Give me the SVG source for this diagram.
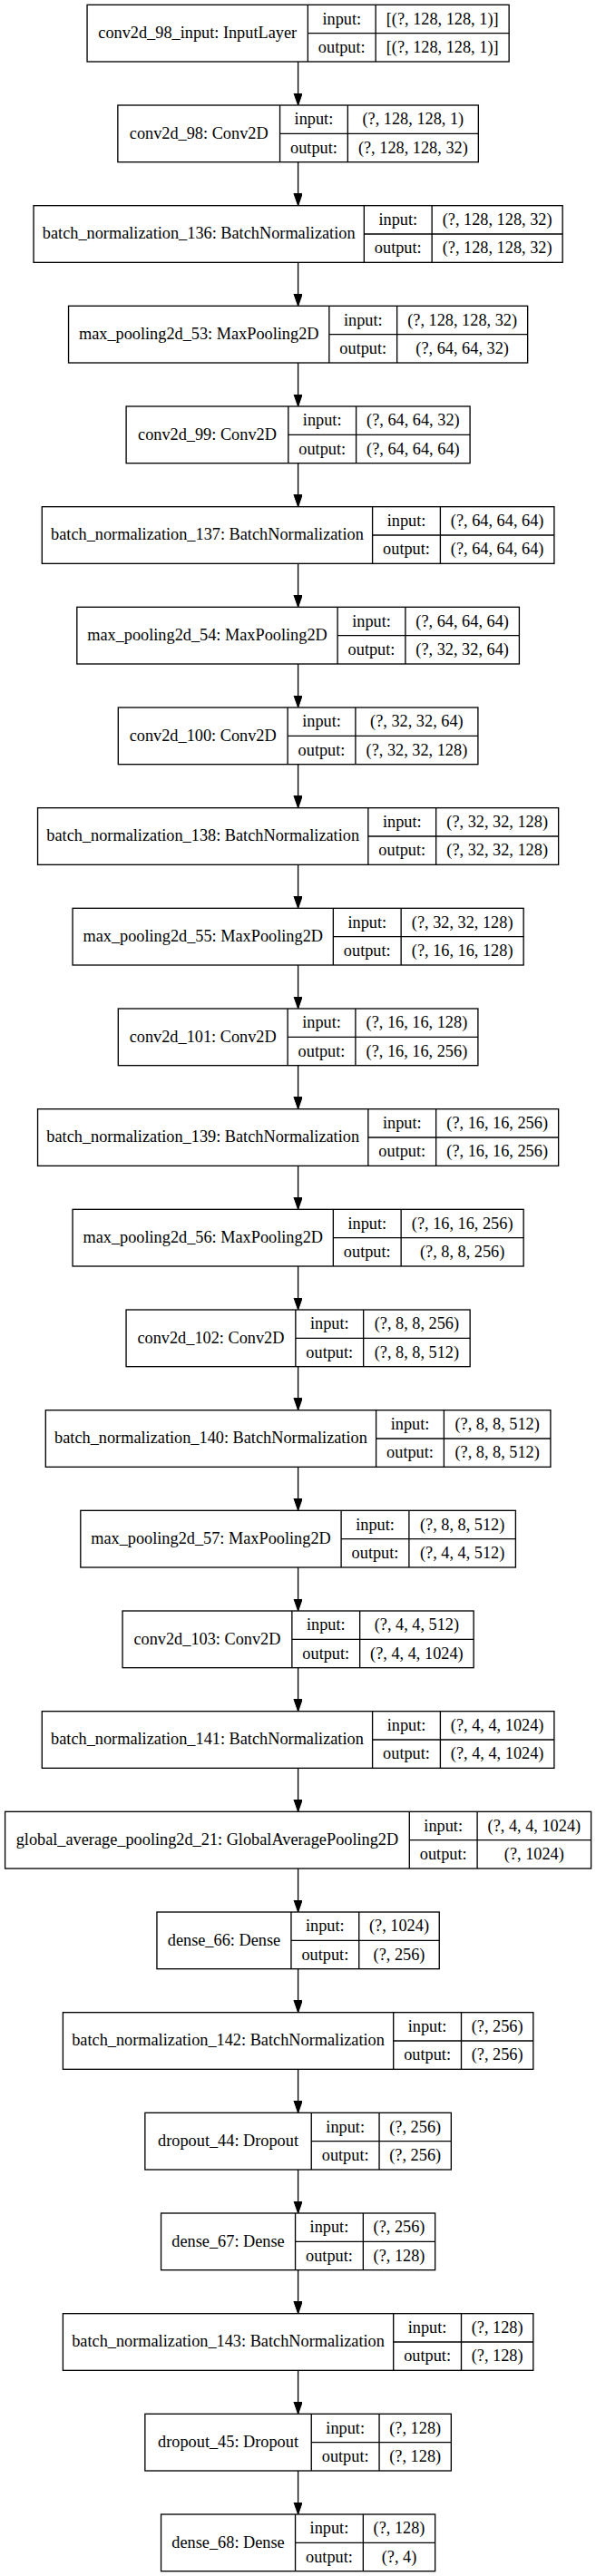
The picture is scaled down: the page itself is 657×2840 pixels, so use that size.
<svg xmlns="http://www.w3.org/2000/svg" width="657" height="2840" viewBox="0 0 657 2840">
<style>
.b{fill:#fff;stroke:#000;stroke-width:1.33}
.d{fill:none;stroke:#000;stroke-width:1.33}
text{font-family:"Liberation Serif","Times New Roman",serif;font-size:18.3px;fill:#000;text-anchor:middle}
.e{stroke:#000;stroke-width:1.33;fill:none;marker-end:url(#ah)}
</style>
<defs>
<marker id="ah" markerUnits="userSpaceOnUse" markerWidth="14" markerHeight="10" refX="13.33" refY="4.67" orient="auto" viewBox="0 0 14 10">
<path d="M0,0 L13.33,4.67 L0,9.33 Z" fill="#000" stroke="#000" stroke-width="1"/>
</marker>
</defs>
<rect width="657" height="2840" fill="#fff"/>
<g id="edges">
<line class="e" x1="328.6" y1="68" x2="328.6" y2="116"/>
<line class="e" x1="328.6" y1="178.67" x2="328.6" y2="226.67"/>
<line class="e" x1="328.6" y1="289.33" x2="328.6" y2="337.33"/>
<line class="e" x1="328.6" y1="400" x2="328.6" y2="448"/>
<line class="e" x1="328.6" y1="510.67" x2="328.6" y2="558.67"/>
<line class="e" x1="328.6" y1="621.33" x2="328.6" y2="669.33"/>
<line class="e" x1="328.6" y1="732" x2="328.6" y2="780"/>
<line class="e" x1="328.6" y1="842.67" x2="328.6" y2="890.67"/>
<line class="e" x1="328.6" y1="953.33" x2="328.6" y2="1001.33"/>
<line class="e" x1="328.6" y1="1064" x2="328.6" y2="1112"/>
<line class="e" x1="328.6" y1="1174.67" x2="328.6" y2="1222.67"/>
<line class="e" x1="328.6" y1="1285.33" x2="328.6" y2="1333.33"/>
<line class="e" x1="328.6" y1="1396" x2="328.6" y2="1444"/>
<line class="e" x1="328.6" y1="1506.67" x2="328.6" y2="1554.67"/>
<line class="e" x1="328.6" y1="1617.33" x2="328.6" y2="1665.33"/>
<line class="e" x1="328.6" y1="1728" x2="328.6" y2="1776"/>
<line class="e" x1="328.6" y1="1838.67" x2="328.6" y2="1886.67"/>
<line class="e" x1="328.6" y1="1949.33" x2="328.6" y2="1997.33"/>
<line class="e" x1="328.6" y1="2060" x2="328.6" y2="2108"/>
<line class="e" x1="328.6" y1="2170.67" x2="328.6" y2="2218.67"/>
<line class="e" x1="328.6" y1="2281.33" x2="328.6" y2="2329.33"/>
<line class="e" x1="328.6" y1="2392" x2="328.6" y2="2440"/>
<line class="e" x1="328.6" y1="2502.67" x2="328.6" y2="2550.67"/>
<line class="e" x1="328.6" y1="2613.33" x2="328.6" y2="2661.33"/>
<line class="e" x1="328.6" y1="2724" x2="328.6" y2="2772"/>
</g>

<g id="n0" transform="translate(0,5.33)">
<rect class="b" x="96.05" y="0" width="465.1" height="62.67"/>
<path class="d" d="M339.35,0V62.67M414.15,0V62.67M339.35,31.33H561.15"/>
<text x="217.7" y="36.8">conv2d_98_input: InputLayer</text>
<text x="376.75" y="21.2">input:</text><text x="376.75" y="52.5">output:</text>
<text x="487.65" y="21.2">[(?, 128, 128, 1)]</text><text x="487.65" y="52.5">[(?, 128, 128, 1)]</text>
</g>

<g id="n1" transform="translate(0,116)">
<rect class="b" x="129.85" y="0" width="397.5" height="62.67"/>
<path class="d" d="M308.55,0V62.67M383.35,0V62.67M308.55,31.33H527.35"/>
<text x="219.2" y="36.8">conv2d_98: Conv2D</text>
<text x="345.95" y="21.2">input:</text><text x="345.95" y="52.5">output:</text>
<text x="455.35" y="21.2">(?, 128, 128, 1)</text><text x="455.35" y="52.5">(?, 128, 128, 32)</text>
</g>

<g id="n2" transform="translate(0,226.67)">
<rect class="b" x="37.05" y="0" width="583.1" height="62.67"/>
<path class="d" d="M401.35,0V62.67M476.15,0V62.67M401.35,31.33H620.15"/>
<text x="219.2" y="36.8">batch_normalization_136: BatchNormalization</text>
<text x="438.75" y="21.2">input:</text><text x="438.75" y="52.5">output:</text>
<text x="548.15" y="21.2">(?, 128, 128, 32)</text><text x="548.15" y="52.5">(?, 128, 128, 32)</text>
</g>

<g id="n3" transform="translate(0,337.33)">
<rect class="b" x="75.55" y="0" width="506.1" height="62.67"/>
<path class="d" d="M362.85,0V62.67M437.65,0V62.67M362.85,31.33H581.65"/>
<text x="219.2" y="36.8">max_pooling2d_53: MaxPooling2D</text>
<text x="400.25" y="21.2">input:</text><text x="400.25" y="52.5">output:</text>
<text x="509.65" y="21.2">(?, 128, 128, 32)</text><text x="509.65" y="52.5">(?, 64, 64, 32)</text>
</g>

<g id="n4" transform="translate(0,448)">
<rect class="b" x="139.1" y="0" width="379" height="62.67"/>
<path class="d" d="M317.8,0V62.67M392.6,0V62.67M317.8,31.33H518.1"/>
<text x="228.45" y="36.8">conv2d_99: Conv2D</text>
<text x="355.2" y="21.2">input:</text><text x="355.2" y="52.5">output:</text>
<text x="455.35" y="21.2">(?, 64, 64, 32)</text><text x="455.35" y="52.5">(?, 64, 64, 64)</text>
</g>

<g id="n5" transform="translate(0,558.67)">
<rect class="b" x="46.3" y="0" width="564.6" height="62.67"/>
<path class="d" d="M410.6,0V62.67M485.4,0V62.67M410.6,31.33H610.9"/>
<text x="228.45" y="36.8">batch_normalization_137: BatchNormalization</text>
<text x="448" y="21.2">input:</text><text x="448" y="52.5">output:</text>
<text x="548.15" y="21.2">(?, 64, 64, 64)</text><text x="548.15" y="52.5">(?, 64, 64, 64)</text>
</g>

<g id="n6" transform="translate(0,669.33)">
<rect class="b" x="84.8" y="0" width="487.6" height="62.67"/>
<path class="d" d="M372.1,0V62.67M446.9,0V62.67M372.1,31.33H572.4"/>
<text x="228.45" y="36.8">max_pooling2d_54: MaxPooling2D</text>
<text x="409.5" y="21.2">input:</text><text x="409.5" y="52.5">output:</text>
<text x="509.65" y="21.2">(?, 64, 64, 64)</text><text x="509.65" y="52.5">(?, 32, 32, 64)</text>
</g>

<g id="n7" transform="translate(0,780)">
<rect class="b" x="130.3" y="0" width="396.6" height="62.67"/>
<path class="d" d="M317.1,0V62.67M391.9,0V62.67M317.1,31.33H526.9"/>
<text x="223.7" y="36.8">conv2d_100: Conv2D</text>
<text x="354.5" y="21.2">input:</text><text x="354.5" y="52.5">output:</text>
<text x="459.4" y="21.2">(?, 32, 32, 64)</text><text x="459.4" y="52.5">(?, 32, 32, 128)</text>
</g>

<g id="n8" transform="translate(0,890.67)">
<rect class="b" x="41.55" y="0" width="574.1" height="62.67"/>
<path class="d" d="M405.85,0V62.67M480.65,0V62.67M405.85,31.33H615.65"/>
<text x="223.7" y="36.8">batch_normalization_138: BatchNormalization</text>
<text x="443.25" y="21.2">input:</text><text x="443.25" y="52.5">output:</text>
<text x="548.15" y="21.2">(?, 32, 32, 128)</text><text x="548.15" y="52.5">(?, 32, 32, 128)</text>
</g>

<g id="n9" transform="translate(0,1001.33)">
<rect class="b" x="80.05" y="0" width="497.1" height="62.67"/>
<path class="d" d="M367.35,0V62.67M442.15,0V62.67M367.35,31.33H577.15"/>
<text x="223.7" y="36.8">max_pooling2d_55: MaxPooling2D</text>
<text x="404.75" y="21.2">input:</text><text x="404.75" y="52.5">output:</text>
<text x="509.65" y="21.2">(?, 32, 32, 128)</text><text x="509.65" y="52.5">(?, 16, 16, 128)</text>
</g>

<g id="n10" transform="translate(0,1112)">
<rect class="b" x="130.3" y="0" width="396.6" height="62.67"/>
<path class="d" d="M317.1,0V62.67M391.9,0V62.67M317.1,31.33H526.9"/>
<text x="223.7" y="36.8">conv2d_101: Conv2D</text>
<text x="354.5" y="21.2">input:</text><text x="354.5" y="52.5">output:</text>
<text x="459.4" y="21.2">(?, 16, 16, 128)</text><text x="459.4" y="52.5">(?, 16, 16, 256)</text>
</g>

<g id="n11" transform="translate(0,1222.67)">
<rect class="b" x="41.55" y="0" width="574.1" height="62.67"/>
<path class="d" d="M405.85,0V62.67M480.65,0V62.67M405.85,31.33H615.65"/>
<text x="223.7" y="36.8">batch_normalization_139: BatchNormalization</text>
<text x="443.25" y="21.2">input:</text><text x="443.25" y="52.5">output:</text>
<text x="548.15" y="21.2">(?, 16, 16, 256)</text><text x="548.15" y="52.5">(?, 16, 16, 256)</text>
</g>

<g id="n12" transform="translate(0,1333.33)">
<rect class="b" x="80.05" y="0" width="497.1" height="62.67"/>
<path class="d" d="M367.35,0V62.67M442.15,0V62.67M367.35,31.33H577.15"/>
<text x="223.7" y="36.8">max_pooling2d_56: MaxPooling2D</text>
<text x="404.75" y="21.2">input:</text><text x="404.75" y="52.5">output:</text>
<text x="509.65" y="21.2">(?, 16, 16, 256)</text><text x="509.65" y="52.5">(?, 8, 8, 256)</text>
</g>

<g id="n13" transform="translate(0,1444)">
<rect class="b" x="139.05" y="0" width="379.1" height="62.67"/>
<path class="d" d="M325.85,0V62.67M400.65,0V62.67M325.85,31.33H518.15"/>
<text x="232.45" y="36.8">conv2d_102: Conv2D</text>
<text x="363.25" y="21.2">input:</text><text x="363.25" y="52.5">output:</text>
<text x="459.4" y="21.2">(?, 8, 8, 256)</text><text x="459.4" y="52.5">(?, 8, 8, 512)</text>
</g>

<g id="n14" transform="translate(0,1554.67)">
<rect class="b" x="50.3" y="0" width="556.6" height="62.67"/>
<path class="d" d="M414.6,0V62.67M489.4,0V62.67M414.6,31.33H606.9"/>
<text x="232.45" y="36.8">batch_normalization_140: BatchNormalization</text>
<text x="452" y="21.2">input:</text><text x="452" y="52.5">output:</text>
<text x="548.15" y="21.2">(?, 8, 8, 512)</text><text x="548.15" y="52.5">(?, 8, 8, 512)</text>
</g>

<g id="n15" transform="translate(0,1665.33)">
<rect class="b" x="88.8" y="0" width="479.6" height="62.67"/>
<path class="d" d="M376.1,0V62.67M450.9,0V62.67M376.1,31.33H568.4"/>
<text x="232.45" y="36.8">max_pooling2d_57: MaxPooling2D</text>
<text x="413.5" y="21.2">input:</text><text x="413.5" y="52.5">output:</text>
<text x="509.65" y="21.2">(?, 8, 8, 512)</text><text x="509.65" y="52.5">(?, 4, 4, 512)</text>
</g>

<g id="n16" transform="translate(0,1776)">
<rect class="b" x="135.05" y="0" width="387.1" height="62.67"/>
<path class="d" d="M321.85,0V62.67M396.65,0V62.67M321.85,31.33H522.15"/>
<text x="228.45" y="36.8">conv2d_103: Conv2D</text>
<text x="359.25" y="21.2">input:</text><text x="359.25" y="52.5">output:</text>
<text x="459.4" y="21.2">(?, 4, 4, 512)</text><text x="459.4" y="52.5">(?, 4, 4, 1024)</text>
</g>

<g id="n17" transform="translate(0,1886.67)">
<rect class="b" x="46.3" y="0" width="564.6" height="62.67"/>
<path class="d" d="M410.6,0V62.67M485.4,0V62.67M410.6,31.33H610.9"/>
<text x="228.45" y="36.8">batch_normalization_141: BatchNormalization</text>
<text x="448" y="21.2">input:</text><text x="448" y="52.5">output:</text>
<text x="548.15" y="21.2">(?, 4, 4, 1024)</text><text x="548.15" y="52.5">(?, 4, 4, 1024)</text>
</g>

<g id="n18" transform="translate(0,1997.33)">
<rect class="b" x="5.6" y="0" width="646" height="62.67"/>
<path class="d" d="M451.3,0V62.67M526.1,0V62.67M451.3,31.33H651.6"/>
<text x="228.45" y="36.8">global_average_pooling2d_21: GlobalAveragePooling2D</text>
<text x="488.7" y="21.2">input:</text><text x="488.7" y="52.5">output:</text>
<text x="588.85" y="21.2">(?, 4, 4, 1024)</text><text x="588.85" y="52.5">(?, 1024)</text>
</g>

<g id="n19" transform="translate(0,2108)">
<rect class="b" x="172.95" y="0" width="311.3" height="62.67"/>
<path class="d" d="M320.95,0V62.67M395.75,0V62.67M320.95,31.33H484.25"/>
<text x="246.95" y="36.8">dense_66: Dense</text>
<text x="358.35" y="21.2">input:</text><text x="358.35" y="52.5">output:</text>
<text x="440" y="21.2">(?, 1024)</text><text x="440" y="52.5">(?, 256)</text>
</g>

<g id="n20" transform="translate(0,2218.67)">
<rect class="b" x="69.4" y="0" width="518.4" height="62.67"/>
<path class="d" d="M433.7,0V62.67M508.5,0V62.67M433.7,31.33H587.8"/>
<text x="251.55" y="36.8">batch_normalization_142: BatchNormalization</text>
<text x="471.1" y="21.2">input:</text><text x="471.1" y="52.5">output:</text>
<text x="548.15" y="21.2">(?, 256)</text><text x="548.15" y="52.5">(?, 256)</text>
</g>

<g id="n21" transform="translate(0,2329.33)">
<rect class="b" x="159.85" y="0" width="337.5" height="62.67"/>
<path class="d" d="M343.25,0V62.67M418.05,0V62.67M343.25,31.33H497.35"/>
<text x="251.55" y="36.8">dropout_44: Dropout</text>
<text x="380.65" y="21.2">input:</text><text x="380.65" y="52.5">output:</text>
<text x="457.7" y="21.2">(?, 256)</text><text x="457.7" y="52.5">(?, 256)</text>
</g>

<g id="n22" transform="translate(0,2440)">
<rect class="b" x="177.55" y="0" width="302.1" height="62.67"/>
<path class="d" d="M325.55,0V62.67M400.35,0V62.67M325.55,31.33H479.65"/>
<text x="251.55" y="36.8">dense_67: Dense</text>
<text x="362.95" y="21.2">input:</text><text x="362.95" y="52.5">output:</text>
<text x="440" y="21.2">(?, 256)</text><text x="440" y="52.5">(?, 128)</text>
</g>

<g id="n23" transform="translate(0,2550.67)">
<rect class="b" x="69.4" y="0" width="518.4" height="62.67"/>
<path class="d" d="M433.7,0V62.67M508.5,0V62.67M433.7,31.33H587.8"/>
<text x="251.55" y="36.8">batch_normalization_143: BatchNormalization</text>
<text x="471.1" y="21.2">input:</text><text x="471.1" y="52.5">output:</text>
<text x="548.15" y="21.2">(?, 128)</text><text x="548.15" y="52.5">(?, 128)</text>
</g>

<g id="n24" transform="translate(0,2661.33)">
<rect class="b" x="159.85" y="0" width="337.5" height="62.67"/>
<path class="d" d="M343.25,0V62.67M418.05,0V62.67M343.25,31.33H497.35"/>
<text x="251.55" y="36.8">dropout_45: Dropout</text>
<text x="380.65" y="21.2">input:</text><text x="380.65" y="52.5">output:</text>
<text x="457.7" y="21.2">(?, 128)</text><text x="457.7" y="52.5">(?, 128)</text>
</g>

<g id="n25" transform="translate(0,2772)">
<rect class="b" x="177.55" y="0" width="302.1" height="62.67"/>
<path class="d" d="M325.55,0V62.67M400.35,0V62.67M325.55,31.33H479.65"/>
<text x="251.55" y="36.8">dense_68: Dense</text>
<text x="362.95" y="21.2">input:</text><text x="362.95" y="52.5">output:</text>
<text x="440" y="21.2">(?, 128)</text><text x="440" y="52.5">(?, 4)</text>
</g>
</svg>
